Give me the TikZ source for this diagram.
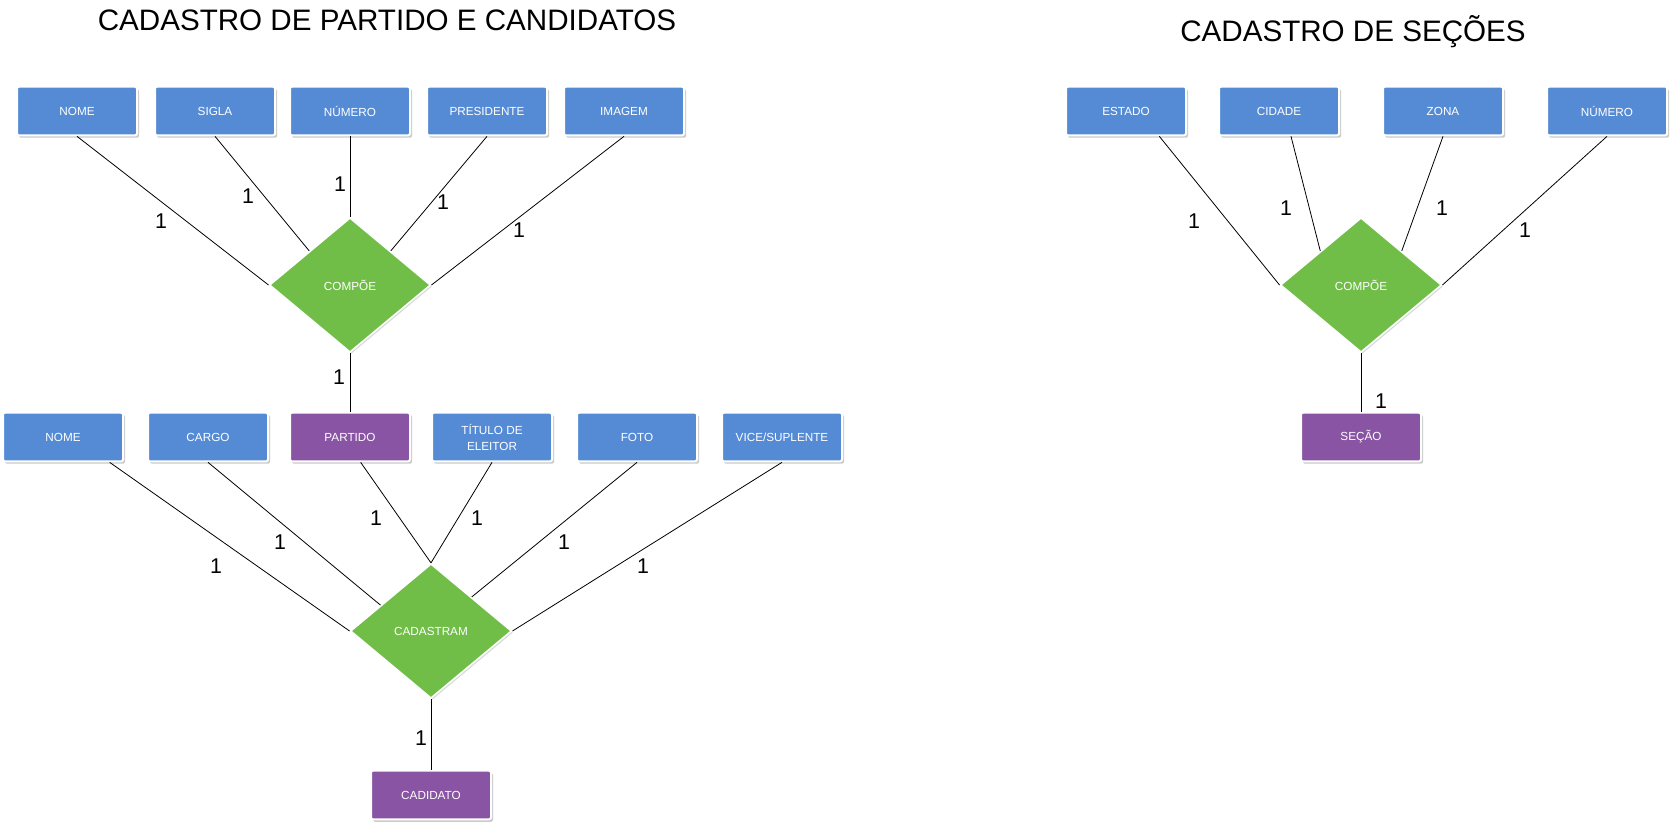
\documentclass[tikz,border=0pt]{standalone}
\usepackage{fontspec}
\setmainfont{Liberation Sans}
\usetikzlibrary{shapes.geometric,shadows,calc}
\definecolor{entblue}{RGB}{85,139,213}
\definecolor{entpurple}{RGB}{137,84,163}
\definecolor{relgreen}{RGB}{112,190,72}
\tikzset{
    % attribute box (blue)
    attrbox/.style={
        rectangle, rounded corners=1.5pt, draw=white, line width=1.5pt,
        fill=entblue, minimum width=90pt, minimum height=36.5pt,
        inner sep=1pt, align=center, text=white,
        font=\fontsize{8.8}{12}\selectfont,
        drop shadow={shadow xshift=1.5pt, shadow yshift=-1.8pt,
                     opacity=0.35, fill=black!60}
    },
    % entity box (purple)
    entbox/.style={attrbox, fill=entpurple},
    % relationship diamond (green)
    relnode/.style={
        diamond, draw=white, line width=1.2pt, fill=relgreen,
        minimum width=121pt, minimum height=101pt, inner sep=0pt,
        text=white, font=\fontsize{8.8}{12}\selectfont,
        drop shadow={shadow xshift=1pt, shadow yshift=-1.2pt,
                     opacity=0.25, fill=black!60}
    },
    % connectors and labels
    rel/.style={line width=0.6pt, black},
    card/.style={font=\fontsize{16}{18}\selectfont, inner sep=0pt},
    titletext/.style={font=\fontsize{22.2}{26}\selectfont, inner sep=0pt}
}

\begin{document}
\begin{tikzpicture}[x=0.75pt, y=-0.75pt]
  \useasboundingbox (0,0) rectangle (1673,826);

  % --- partido e candidatos ---
  \node[titletext] (title1) at (387,20) {CADASTRO DE PARTIDO E CANDIDATOS};

  \node[attrbox] (pnome)   at (77,111)  {NOME};
  \node[attrbox] (psigla)  at (215,111) {SIGLA};
  \node[attrbox] (pnum)    at (350,111) {NÚMERO};
  \node[attrbox] (ppres)   at (487,111) {PRESIDENTE};
  \node[attrbox] (pimg)    at (624,111) {IMAGEM};

  \node[relnode] (compoe1) at (350,285) {COMPÕE};

  \node[attrbox] (cnome)   at (63,437)  {NOME};
  \node[attrbox] (ccargo)  at (208,437) {CARGO};
  \node[entbox]  (partido) at (350,437) {PARTIDO};
  \node[attrbox] (ctitulo) at (492,437) {TÍTULO DE\\ELEITOR};
  \node[attrbox] (cfoto)   at (637,437) {FOTO};
  \node[attrbox] (cvice)   at (782,437) {VICE/SUPLENTE};

  \node[relnode] (cadastram) at (431,631) {CADASTRAM};
  \node[entbox]  (cadidato)  at (431,795) {CADIDATO};

  \draw[rel] (pnome.south) -- (compoe1.west)       node[card] (k1) at (161,221) {1};
  \draw[rel] (psigla.south) -- (compoe1.north west) node[card] (k2) at (248,196) {1};
  \draw[rel] (pnum.south) -- (compoe1.north)       node[card] (k3) at (340,184) {1};
  \draw[rel] (ppres.south) -- (compoe1.north east) node[card] (k4) at (443,202) {1};
  \draw[rel] (pimg.south) -- (compoe1.east)        node[card] (k5) at (519,230) {1};
  \draw[rel] (compoe1.south) -- (partido.north)    node[card] (k6) at (339,377) {1};

  \draw[rel] ([xshift=35pt]cnome.south) -- (cadastram.west)        node[card] (k7)  at (216,566) {1};
  \draw[rel] (ccargo.south) -- ($(cadastram.west)!0.38!(cadastram.north)$) node[card] (k8)  at (280,542) {1};
  \draw[rel] ([xshift=8pt]partido.south) -- (cadastram.north)     node[card] (k9)  at (376,518) {1};
  \draw[rel] (ctitulo.south) -- (cadastram.north)                 node[card] (k10) at (477,518) {1};
  \draw[rel] (cfoto.south) -- (cadastram.north east)              node[card] (k11) at (564,542) {1};
  \draw[rel] (cvice.south) -- (cadastram.east)                    node[card] (k12) at (643,566) {1};
  \draw[rel] (cadastram.south) -- (cadidato.north)                node[card] (k13) at (421,738) {1};

  % --- secoes ---
  \node[titletext] (title2) at (1353,32) {CADASTRO DE SEÇÕES};

  \node[attrbox] (sestado) at (1126,111) {ESTADO};
  \node[attrbox] (scidade) at (1279,111) {CIDADE};
  \node[attrbox] (szona)   at (1443,111) {ZONA};
  \node[attrbox] (snum)    at (1607,111) {NÚMERO};

  \node[relnode] (compoe2) at (1361,285) {COMPÕE};
  \node[entbox]  (secao)   at (1361,437) {SEÇÃO};

  \draw[rel] ([xshift=25pt]sestado.south) -- (compoe2.west)      node[card] (k14) at (1194,221) {1};
  \draw[rel] ([xshift=9pt]scidade.south) -- (compoe2.north west) node[card] (k15) at (1286,208) {1};
  \draw[rel] (szona.south) -- (compoe2.north east)               node[card] (k16) at (1442,208) {1};
  \draw[rel] (snum.south) -- (compoe2.east)                      node[card] (k17) at (1525,230) {1};
  \draw[rel] (compoe2.south) -- (secao.north)                    node[card] (k18) at (1381,401) {1};
\end{tikzpicture}
\end{document}
